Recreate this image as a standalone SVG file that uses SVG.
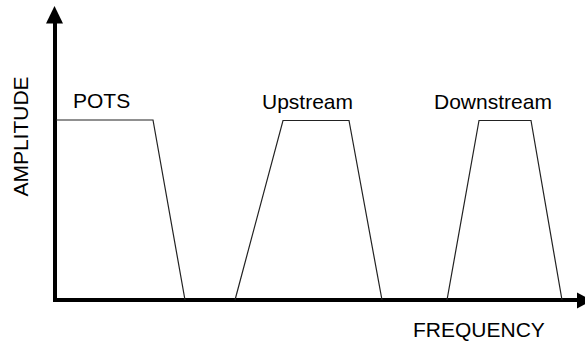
<svg xmlns="http://www.w3.org/2000/svg" width="585" height="342" viewBox="0 0 585 342">
  <style>
    .lbl { font-family: "Liberation Sans", Arial, sans-serif; font-size: 21px; fill: #000; }
    .band { fill: none; stroke: #222; stroke-width: 1.2; stroke-linejoin: miter; }
    .axis { fill: none; stroke: #000; stroke-width: 4; stroke-linejoin: miter; }
    .head { fill: #000; }
  </style>
  <rect width="585" height="342" fill="#fff"/>

  <!-- axes -->
  <g id="axes">
    <path class="axis" d="M55,22 L55,300 L578,300"/>
    <polygon class="head" points="54.5,6 46,23.5 63,23.5"/>
    <polygon class="head" points="592,300.5 577,292.5 577,308.5"/>
    <text class="lbl" x="413" y="337">FREQUENCY</text>
    <text class="lbl" transform="translate(28,136.5) rotate(-90)" text-anchor="middle">AMPLITUDE</text>
  </g>

  <!-- frequency bands -->
  <g id="pots">
    <path class="band" d="M56,120 L153,120 L185,300"/>
    <text class="lbl" x="73" y="108">POTS</text>
  </g>
  <g id="upstream">
    <path class="band" d="M235,300 L283,120.5 L349,120.5 L382,300"/>
    <text class="lbl" x="262" y="109">Upstream</text>
  </g>
  <g id="downstream">
    <path class="band" d="M447,300 L479,120.5 L531,120.5 L562,300"/>
    <text class="lbl" x="434" y="109">Downstream</text>
  </g>
</svg>
